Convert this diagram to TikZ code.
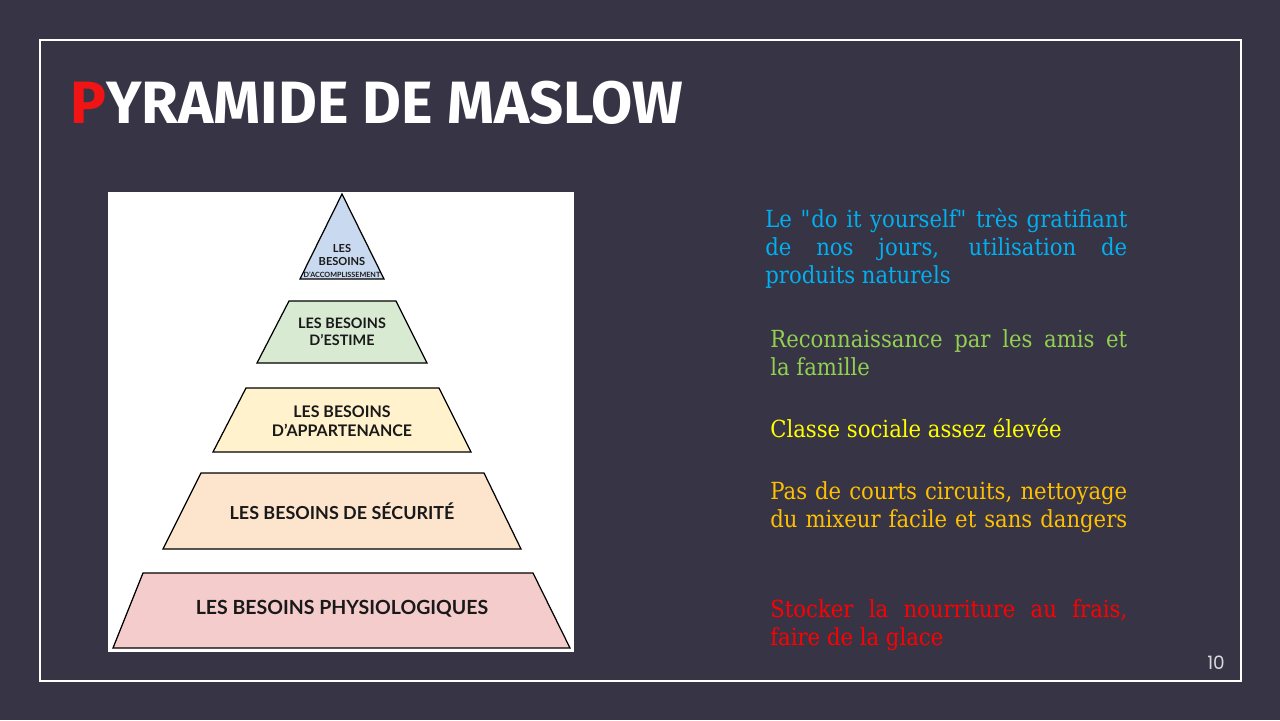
\documentclass[tikz,border=0pt]{standalone}
\usepackage{fontspec}
\setmainfont{DejaVu Serif}[FakeStretch=0.9]
\newfontfamily\titlefont{Fira Sans}
\newfontfamily\labelfont{Lato}
\newfontfamily\numfont{Poppins}
\usetikzlibrary{positioning}
\definecolor{slide}{HTML}{373446}
\definecolor{titlered}{HTML}{F01414}
\definecolor{accomp}{HTML}{C9D9EF}
\definecolor{estime}{HTML}{D9EAD3}
\definecolor{appart}{HTML}{FFF2CC}
\definecolor{secur}{HTML}{FCE4CD}
\definecolor{physio}{HTML}{F4CCCC}
\definecolor{cyantext}{HTML}{00B0F0}
\definecolor{greentext}{HTML}{92D050}
\definecolor{yellowtext}{HTML}{FFFF00}
\definecolor{orangetext}{HTML}{FFC000}
\definecolor{redtext}{HTML}{FF0000}
\newdimen\tdim
\newdimen\sdim
\tdim=7.24cm
\sdim=7.14cm
\tikzstyle{layer}=[
  draw=black,
  line width=0.7pt,
  line join=miter,
]
\tikzstyle{layerlabel}=[
  align=center,
  inner sep=0pt,
  text=black!90,
]
\tikzstyle{note}=[
  anchor=base west,
  align=left,
  inner sep=0pt,
  font={\fontsize{13.4}{15.9}\selectfont},
]
\tikzstyle{titletext}=[
  anchor=base west,
  inner sep=0pt,
  text=white,
  font={\titlefont\bfseries\fontsize{34}{40}\selectfont},
]

\begin{document}
\begin{tikzpicture}[x=0.02cm,y=-0.02cm]
  \useasboundingbox (0,0) rectangle (1280,720);
  \fill [slide] (0,0) rectangle (1280,720);
  \draw [white, line width=0.6pt] (40,40) rectangle (1241,681);
  %%
  \node (title) [titletext] at (70,123) {\textcolor{titlered}{P}YRAMIDE DE MASLOW};
  %%
  \fill [white] (108,192) rectangle (574,652);
  \draw [layer, fill=accomp] (342,194) -- (384,279) -- (300,279) -- cycle;
  \draw [layer, fill=estime] (289,301) -- (396,301) -- (427,363) -- (257,363) -- cycle;
  \draw [layer, fill=appart] (246,388) -- (439,388) -- (471,452) -- (213,452) -- cycle;
  \draw [layer, fill=secur] (201,473) -- (484,473) -- (521,549) -- (163,549) -- cycle;
  \draw [layer, fill=physio] (143,573) -- (533,573) -- (570,648) -- (113,648) -- cycle;
  %%
  \node (accomplissement) [layerlabel, font={\labelfont\bfseries\fontsize{6.3}{7}\selectfont}]
    at (342,261) {LES\\BESOINS\\{\fontsize{4.1}{4.8}\selectfont D’ACCOMPLISSEMENT}};
  \node (estimelabel) [layerlabel, font={\labelfont\bfseries\fontsize{8.2}{9.6}\selectfont}]
    at (342,332) {LES BESOINS\\D’ESTIME};
  \node (appartenance) [layerlabel, font={\labelfont\bfseries\fontsize{9.1}{11}\selectfont}]
    at (342,421) {LES BESOINS\\D’APPARTENANCE};
  \node (securite) [layerlabel, font={\labelfont\bfseries\fontsize{10.2}{12}\selectfont}]
    at (342,511) {LES BESOINS DE SÉCURITÉ};
  \node (physiologiques) [layerlabel, font={\labelfont\bfseries\fontsize{11.1}{13}\selectfont}]
    at (342,609) {LES BESOINS PHYSIOLOGIQUES};
  %%
  \node (diy) [note, text=cyantext] at (765,283)
    {\makebox[\tdim][s]{Le \textquotedbl do it yourself\textquotedbl{} très gratifiant}\\
     \makebox[\tdim][s]{de nos jours, utilisation de}\\
     produits naturels};
  \node (amis) [note, text=greentext] at (770,375)
    {\makebox[\sdim][s]{Reconnaissance par les amis et}\\
     la famille};
  \node (classe) [note, text=yellowtext] at (770,437)
    {Classe sociale assez élevée};
  \node (mixeur) [note, text=orangetext] at (770,527)
    {\makebox[\sdim][s]{Pas de courts circuits, nettoyage}\\
     \makebox[\sdim][s]{du mixeur facile et sans dangers}};
  \node (glace) [note, text=redtext] at (770,645)
    {\makebox[\sdim][s]{Stocker la nourriture au frais,}\\
     faire de la glace};
  %%
  \node (page) [text=black!15, font={\numfont\fontsize{10.5}{12}\selectfont}] at (1216,663) {10};
\end{tikzpicture}
\end{document}
